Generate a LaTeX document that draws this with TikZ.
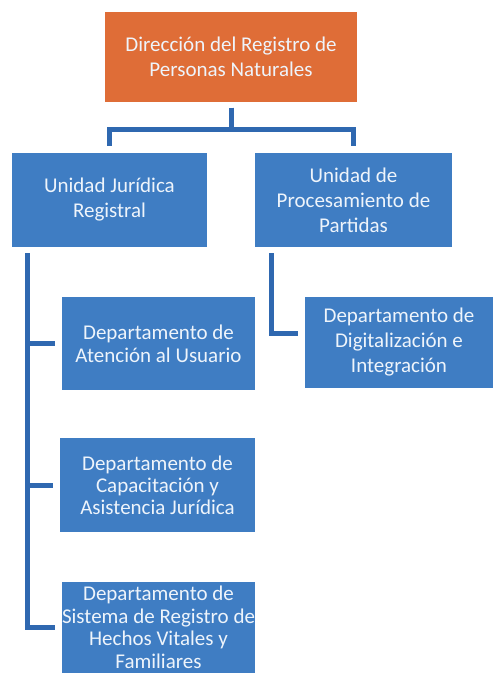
\documentclass[tikz,border=0pt]{standalone}
\usepackage{fontspec}
\setmainfont{Carlito}
\usepackage{tikz}
\definecolor{OrgOrange}{HTML}{DF6D37}
\definecolor{OrgBlue}{HTML}{3F7DC3}
\definecolor{OrgLine}{HTML}{2F68B0}
\definecolor{OrgText}{HTML}{EEF4FB}

\begin{document}
\begin{tikzpicture}[x=1pt,y=-1pt,
  unit/.style={fill=OrgBlue,text=OrgText,align=center,inner sep=1pt,
    font=\fontsize{21}{25}\selectfont},
  head/.style={unit,fill=OrgOrange},
  link/.style={OrgLine,line width=5pt,shorten <=6pt,shorten >=7pt}]
  \useasboundingbox (0,0) rectangle (495,675);
  % top of the chart
  \node[head,minimum width=252pt,minimum height=90pt] (dir) at (231,56.5)
    {Dirección del Registro de\\Personas Naturales};
  \node[unit,minimum width=195pt,minimum height=94pt] (ujr) at (109.5,200)
    {Unidad Jurídica\\Registral};
  \node[unit,minimum width=197pt,minimum height=94pt] (upp) at (353.5,200)
    {Unidad de\\Procesamiento de\\Partidas};
  % departments
  \node[unit,minimum width=193pt,minimum height=93pt,
    font=\fontsize{21}{23}\selectfont] (datu) at (158.5,343.5)
    {Departamento de\\Atención al Usuario};
  \node[unit,minimum width=195pt,minimum height=94pt,
    font=\fontsize{21}{22}\selectfont] (dcap) at (157.5,485)
    {Departamento de\\Capacitación y\\Asistencia Jurídica};
  \node[unit,minimum width=193pt,minimum height=91pt,inner xsep=-1pt,
    font=\fontsize{21}{22.5}\selectfont] (dsis) at (158.5,627.5)
    {Departamento de\\Sistema de Registro de\\Hechos Vitales y\\Familiares};
  \node[unit,minimum width=188pt,minimum height=91pt] (ddig) at (399,342.5)
    {Departamento de\\Digitalización e\\Integración};
  % connectors
  \draw[link] (dir.south) -- ++(0,28) -| (ujr.north);
  \draw[link] (dir.south) -- ++(0,28) -| (upp.north);
  \coordinate (jtrunk) at ([xshift=16pt]ujr.south west);
  \coordinate (ptrunk) at ([xshift=17pt]upp.south west);
  \draw[link] (jtrunk) |- (datu.west);
  \draw[link] (jtrunk) |- (dcap.west);
  \draw[link] (jtrunk) |- (dsis.west);
  \draw[link] (ptrunk) |- ([yshift=9pt]ddig.west);
\end{tikzpicture}
\end{document}
